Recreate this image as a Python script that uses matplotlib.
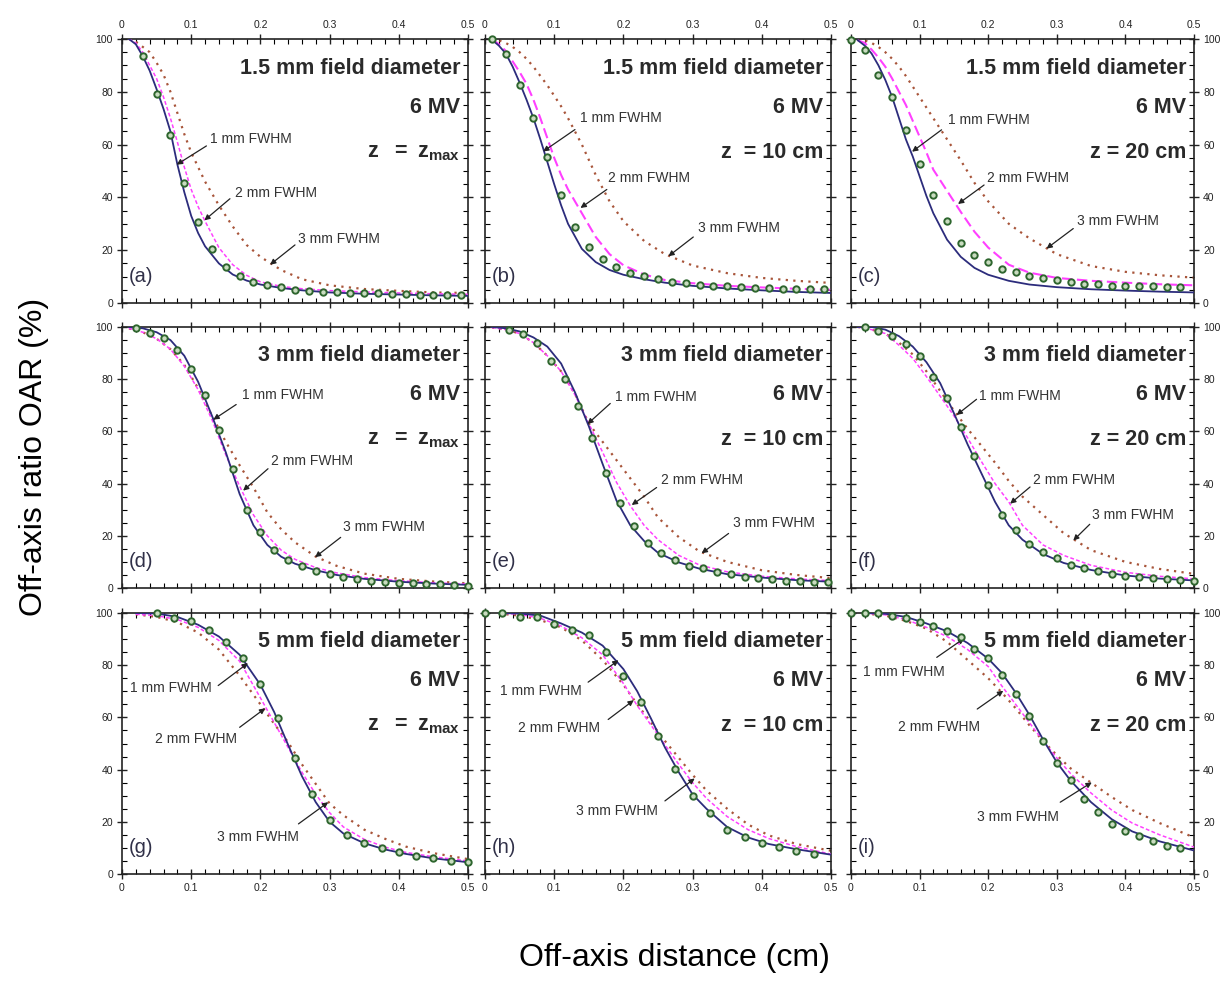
import matplotlib
matplotlib.use('Agg')
import matplotlib.pyplot as plt
from matplotlib.ticker import MultipleLocator, FuncFormatter

plt.rcParams['font.family'] = ['Liberation Sans', 'DejaVu Sans']
plt.rcParams['mathtext.fontset'] = 'custom'
plt.rcParams['mathtext.bf'] = 'Liberation Sans:bold'
plt.rcParams['mathtext.rm'] = 'Liberation Sans:bold'
plt.rcParams['mathtext.it'] = 'Liberation Sans:bold'

# ---- off-axis positions of the calculated curves (cm), one grid per row ----
x_row1 = [0.01, 0.02, 0.03, 0.04, 0.05, 0.06, 0.07, 0.08, 0.09, 0.10, 0.11, 0.12,
          0.14, 0.16, 0.18, 0.20, 0.23, 0.26, 0.30, 0.35, 0.40, 0.45, 0.50]
x_row2 = [0.01, 0.03, 0.05, 0.07, 0.09, 0.11, 0.13, 0.15, 0.17, 0.19, 0.21, 0.23,
          0.25, 0.28, 0.31, 0.35, 0.40, 0.45, 0.50]
x_row3 = [0.02, 0.05, 0.08, 0.11, 0.14, 0.17, 0.20, 0.22, 0.24, 0.26, 0.28, 0.30,
          0.32, 0.35, 0.38, 0.41, 0.45, 0.50]

# ---- (a) 1.5 mm, z = zmax ----
a_1mm = [100, 98, 93.5, 88, 81, 73.5, 65, 52.5, 42, 33, 26.5, 21.5, 15, 10.8, 8.5, 7.0, 5.7, 4.8, 4.0, 3.5, 3.2, 2.9, 2.7]
a_2mm = [100, 98.5, 95, 90, 85, 78, 70, 61, 51.5, 43, 36.5, 31, 21, 14.5, 10.5, 8.0, 6.3, 5.4, 4.7, 4.2, 3.8, 3.5, 3.3]
a_3mm = [100, 99, 97, 95, 91, 86.5, 80, 72, 64, 57, 51.5, 46, 37, 29, 22, 17.5, 12.5, 9, 6.7, 5.3, 4.6, 4.0, 3.8]
a_meas_x = [0.03, 0.05, 0.07, 0.09, 0.11, 0.13, 0.15, 0.17, 0.19, 0.21, 0.23, 0.25,
            0.27, 0.29, 0.31, 0.33, 0.35, 0.37, 0.39, 0.41, 0.43, 0.45, 0.47, 0.49]
a_meas = [93.4, 79.2, 63.8, 45.5, 30.6, 20.5, 13.6, 10.1, 8.0, 6.9, 6.1, 5.1,
          4.5, 4.2, 4.0, 3.8, 3.8, 3.7, 3.5, 3.4, 3.2, 3.2, 3.2, 3.0]

# ---- (b) 1.5 mm, z = 10 cm ----
b_1mm = [99.7, 97.5, 94.5, 89.5, 83.5, 77, 70, 62, 53.5, 45, 37, 30, 20.5, 15.5, 12.5, 10.7, 9.0, 7.7, 6.5, 5.5, 4.8, 4.2, 3.8]
b_2mm = [100, 98, 95.5, 91.5, 87.5, 83, 77, 70, 62.5, 55, 48.5, 43, 34, 25, 18.5, 14.3, 10.8, 8.7, 7.5, 6.5, 5.9, 5.4, 5.0]
b_3mm = [100, 99.5, 98.5, 97, 95, 92.5, 89.5, 86, 82.5, 78.5, 74.5, 70, 60, 48.5, 38.5, 31, 23.5, 18.5, 14.2, 11.3, 9.5, 8.4, 7.6]
b_meas_x = [0.01, 0.03, 0.05, 0.07, 0.09, 0.11, 0.13, 0.15, 0.17, 0.19, 0.21, 0.23, 0.25,
            0.27, 0.29, 0.31, 0.33, 0.35, 0.37, 0.39, 0.41, 0.43, 0.45, 0.47, 0.49]
b_meas = [100, 94.3, 82.7, 70, 55.2, 41.0, 28.8, 21.3, 16.7, 13.5, 11.4, 10.1, 9.1,
          8.0, 7.4, 6.8, 6.6, 6.3, 6.1, 5.8, 5.7, 5.4, 5.3, 5.2, 5.3]

# ---- (c) 1.5 mm, z = 20 cm ----
c_1mm = [99.5, 97.5, 94.5, 90, 84.5, 78, 70, 62, 55.5, 48, 40.5, 34, 24, 17.5, 13.3, 10.7, 8.4, 7.0, 6.0, 5.2, 4.7, 4.3, 4.0]
c_2mm = [99.5, 98.5, 96, 93, 89.5, 85, 80, 75, 69, 63, 57, 50.5, 42.5, 34.5, 27, 21, 14.5, 11.5, 9.5, 8.4, 7.7, 7.1, 6.7]
c_3mm = [100, 99.5, 98.5, 97, 95, 92.5, 89.5, 86, 82, 78, 74, 70, 62, 54, 45.5, 38.5, 30, 24.5, 18.5, 14, 11.8, 10.5, 9.6]
c_meas_x = [0.0, 0.02, 0.04, 0.06, 0.08, 0.10, 0.12, 0.14, 0.16, 0.18, 0.20, 0.22, 0.24,
            0.26, 0.28, 0.30, 0.32, 0.34, 0.36, 0.38, 0.40, 0.42, 0.44, 0.46, 0.48]
c_meas = [99.7, 96, 86.5, 78, 65.6, 52.5, 40.9, 31, 22.8, 18.1, 15.4, 12.7, 11.8,
          10.4, 9.5, 8.6, 8.0, 7.3, 7.1, 6.6, 6.6, 6.3, 6.3, 6.1, 6.1]

# ---- (d) 3 mm, z = zmax ----
d_1mm = [100, 99.5, 98, 95, 89, 79, 66, 52, 36, 24, 16.5, 12, 9.3, 6.8, 5.0, 3.5, 2.4, 1.7, 1.2]
d_2mm = [99.5, 98, 95.5, 91.5, 85, 76, 64.5, 51, 39, 28, 20, 14.5, 11, 7.8, 5.8, 4.0, 2.8, 2.0, 1.5]
d_3mm = [99.5, 98, 95.5, 91.5, 85.5, 76.5, 66, 56, 47, 38.5, 29, 22.5, 17.5, 12, 8.5, 5.5, 3.5, 2.5, 1.8]
d_meas_x = [0.02, 0.04, 0.06, 0.08, 0.10, 0.12, 0.14, 0.16, 0.18, 0.20, 0.22, 0.24, 0.26,
            0.28, 0.30, 0.32, 0.34, 0.36, 0.38, 0.40, 0.42, 0.44, 0.46, 0.48, 0.50]
d_meas = [99.7, 97.8, 95.9, 91.3, 84, 74, 60.7, 45.7, 30, 21.4, 14.6, 10.9, 8.3,
          6.6, 5.4, 4.3, 3.5, 2.8, 2.4, 2.0, 1.8, 1.5, 1.4, 1.2, 0.9]

# ---- (e) 3 mm, z = 10 cm ----
e_1mm = [100, 99.5, 98.3, 96, 92.5, 86, 75, 62, 47.5, 33.5, 24, 18, 13.5, 9.8, 7.4, 5.3, 4.0, 3.0, 2.4]
e_2mm = [99.8, 99, 97.5, 94, 89, 83, 74, 63, 52, 40.5, 31.5, 24, 18.5, 12.5, 8.8, 6.2, 4.5, 3.5, 2.8]
e_3mm = [99.8, 99, 97.5, 94, 89, 83, 74.5, 63, 56, 49, 42, 35, 27, 19.5, 14, 10, 6.8, 5, 3.8]
e_meas_x = [0.035, 0.055, 0.075, 0.095, 0.115, 0.135, 0.155, 0.175, 0.195, 0.215, 0.235, 0.255,
            0.275, 0.295, 0.315, 0.335, 0.355, 0.375, 0.395, 0.415, 0.435, 0.455, 0.475, 0.495]
e_meas = [99, 97.2, 94, 87, 80, 69.6, 57.3, 44.1, 32.4, 23.7, 17.1, 13.5,
          10.7, 8.5, 7.5, 6.3, 5.4, 4.3, 3.7, 3.3, 2.8, 2.7, 2.4, 2.2]

# ---- (f) 3 mm, z = 20 cm ----
f_1mm = [100, 100, 99, 96.5, 92.5, 86.5, 78.5, 67, 55, 44, 33, 24, 18.5, 13, 9.6, 6.9, 4.8, 3.6, 2.9]
f_2mm = [100, 99, 97.5, 93, 88, 81, 73.5, 66, 57.5, 48.5, 40, 33, 24, 16.5, 12.5, 8.7, 6.0, 4.5, 3.5]
f_3mm = [100, 99, 97.5, 94, 89.5, 83, 75.5, 68, 61, 54.5, 48, 41, 35, 28, 21, 14.5, 10, 7.3, 5.4]
f_meas_x = [0.02, 0.04, 0.06, 0.08, 0.10, 0.12, 0.14, 0.16, 0.18, 0.20, 0.22, 0.24, 0.26,
            0.28, 0.30, 0.32, 0.34, 0.36, 0.38, 0.40, 0.42, 0.44, 0.46, 0.48, 0.50]
f_meas = [100, 98.3, 96.7, 93.5, 88.7, 81, 72.7, 61.8, 50.5, 39.6, 28.1, 22.1, 16.9,
          13.7, 11.4, 9.0, 7.6, 6.4, 5.4, 4.7, 4.1, 3.7, 3.5, 3.1, 2.8]

# ---- (g) 5 mm, z = zmax ----
g_1mm = [100, 99.8, 98.5, 95.5, 91, 84, 72.5, 62, 49.5, 37.5, 27.5, 20, 15.5, 11.8, 9.4, 7.7, 6, 4.5]
g_2mm = [99.5, 99, 97.5, 94.5, 89.5, 81.5, 67.5, 58, 48.5, 39, 30.5, 23.5, 18, 13.3, 10.3, 8.3, 6.6, 5.0]
g_3mm = [99.5, 98.5, 96.5, 92.5, 86, 76, 65, 57.5, 50.5, 42, 34.5, 27, 22.5, 17, 13.5, 10.5, 8, 5.7]
g_meas_x = [0.05, 0.075, 0.10, 0.125, 0.15, 0.175, 0.20, 0.225, 0.25, 0.275,
            0.30, 0.325, 0.35, 0.375, 0.40, 0.425, 0.45, 0.475, 0.50]
g_meas = [100, 98.1, 96.8, 93.5, 89, 82.6, 72.8, 59.6, 44.3, 30.7,
          20.7, 14.9, 11.9, 9.8, 8.3, 7.0, 6.1, 5.1, 4.5]

# ---- (h) 5 mm, z = 10 cm ----
h_1mm = [100, 99.8, 99, 96, 92.5, 87.5, 78.5, 70, 59.5, 48.5, 39, 30.5, 25, 18, 14, 11.5, 9.5, 7.4]
h_2mm = [100, 99.5, 98, 95, 90.5, 84, 73, 64.5, 57, 49.5, 42, 35, 29, 22, 17, 13.6, 10.5, 7.6]
h_3mm = [99.8, 99, 97.3, 94.5, 89.5, 82, 72.5, 65, 58, 51, 44.5, 38, 32, 25, 19, 14.8, 11.5, 8.9]
h_meas_x = [0.0, 0.025, 0.05, 0.075, 0.10, 0.125, 0.15, 0.175, 0.20, 0.225,
            0.25, 0.275, 0.30, 0.325, 0.35, 0.375, 0.40, 0.425, 0.45, 0.475]
h_meas = [100, 100, 98.5, 98.3, 95.8, 93.6, 91.5, 85, 76, 66,
          52.9, 40.1, 29.7, 23.3, 16.9, 14, 11.7, 10.2, 8.9, 7.6]

# ---- (i) 5 mm, z = 20 cm ----
i_1mm = [100, 99.7, 98.5, 96, 93, 88.5, 82.5, 77, 69.5, 61, 51.5, 42.8, 35.8, 27.5, 21, 16.3, 12.5, 9]
i_2mm = [100, 99.3, 97.5, 94.5, 91, 86, 79.5, 72, 65, 58, 51, 44.5, 38.5, 31, 24.5, 19.5, 15, 10.3]
i_3mm = [99.8, 99, 97, 94, 89, 82, 75, 69.5, 63.5, 57, 51, 45.5, 40.5, 35, 29.5, 24.5, 19.5, 14]
i_meas_x = [0.0, 0.02, 0.04, 0.06, 0.08, 0.10, 0.12, 0.14, 0.16, 0.18, 0.20, 0.22, 0.24,
            0.26, 0.28, 0.30, 0.32, 0.34, 0.36, 0.38, 0.40, 0.42, 0.44, 0.46, 0.48]
i_meas = [100, 100, 100, 98.7, 98, 96.4, 95.1, 93.2, 90.7, 86.2, 82.6, 76.2, 69,
          60.7, 51.1, 42.5, 36, 28.7, 23.6, 19.2, 16.6, 14.4, 12.8, 10.9, 10]

field_labels = ['1.5 mm field diameter', '3 mm field diameter', '5 mm field diameter']
depth_labels = [r'$\mathbf{z\ \ =\ z_{max}}$', 'z  = 10 cm', 'z = 20 cm']
fwhm_labels = ['1 mm FWHM', '2 mm FWHM', '3 mm FWHM']
row_grids = [x_row1, x_row2, x_row3]

panels = [
    ('a', a_1mm, a_2mm, a_3mm, a_meas_x, a_meas),
    ('b', b_1mm, b_2mm, b_3mm, b_meas_x, b_meas),
    ('c', c_1mm, c_2mm, c_3mm, c_meas_x, c_meas),
    ('d', d_1mm, d_2mm, d_3mm, d_meas_x, d_meas),
    ('e', e_1mm, e_2mm, e_3mm, e_meas_x, e_meas),
    ('f', f_1mm, f_2mm, f_3mm, f_meas_x, f_meas),
    ('g', g_1mm, g_2mm, g_3mm, g_meas_x, g_meas),
    ('h', h_1mm, h_2mm, h_3mm, h_meas_x, h_meas),
    ('i', i_1mm, i_2mm, i_3mm, i_meas_x, i_meas),
]

# label placement: (text xy, arrow start, arrow tip) in data units
notes = {
    'a': [((0.127, 62), (0.122, 59.5), (0.079, 52.4)),
          ((0.163, 41.7), (0.156, 39.5), (0.119, 31.3)),
          ((0.255, 24.2), (0.250, 22), (0.214, 14.5))],
    'b': [((0.137, 70), (0.130, 65.7), (0.084, 57.4)),
          ((0.178, 47.3), (0.176, 43), (0.138, 36)),
          ((0.308, 28.4), (0.301, 25), (0.265, 17.7))],
    'c': [((0.142, 69.4), (0.132, 65.6), (0.089, 57.3)),
          ((0.198, 47.2), (0.194, 44.7), (0.156, 37.5)),
          ((0.329, 31.1), (0.324, 28.2), (0.285, 20.6))],
    'd': [((0.173, 73.8), (0.165, 70.3), (0.132, 64.5)),
          ((0.216, 48.6), (0.211, 45.7), (0.175, 37.3)),
          ((0.320, 23.5), (0.316, 19.4), (0.279, 11.8))],
    'e': [((0.188, 73.2), (0.181, 70.7), (0.148, 62.8)),
          ((0.255, 41.3), (0.248, 38.5), (0.212, 31.8)),
          ((0.358, 25), (0.352, 20.9), (0.313, 13.3))],
    'f': [((0.186, 73.6), (0.183, 72.3), (0.154, 66.3)),
          ((0.266, 41.3), (0.261, 38.7), (0.232, 32.3)),
          ((0.351, 27.8), (0.348, 24.4), (0.324, 18.2))],
    'g': [((0.012, 71.1), (0.139, 72.2), (0.182, 80.8)),
          ((0.047, 51.7), (0.170, 56.2), (0.207, 63.5)),
          ((0.137, 14), (0.255, 19.2), (0.298, 27.5))],
    'h': [((0.021, 70), (0.149, 73.5), (0.193, 81.9)),
          ((0.048, 56), (0.178, 59.2), (0.215, 66.6)),
          ((0.131, 24.2), (0.260, 28), (0.303, 36.6))],
    'i': [((0.018, 77.5), (0.125, 83), (0.165, 90.3)),
          ((0.069, 56.2), (0.184, 63.2), (0.222, 70.2)),
          ((0.183, 21.7), (0.305, 27.5), (0.351, 35.1))],
}

W, H = 1231, 983
col_left = [122, 485, 851]
col_w = [346, 346, 343]
row_top = [39, 327, 613]
row_bot = [303, 588, 874]

fig = plt.figure(figsize=(W / 100, H / 100), dpi=100)
fmt = FuncFormatter(lambda v, p: '%g' % round(v, 2))

for k, (tag, s1, s2, s3, mx, my) in enumerate(panels):
    r, c = divmod(k, 3)
    rect = [col_left[c] / W, 1 - row_bot[r] / H, col_w[c] / W, (row_bot[r] - row_top[r]) / H]
    ax = fig.add_axes(rect)
    xg = row_grids[r]

    if r == 0 and c > 0:
        dash = (0, (5, 2.2))
        dlw = 1.5
    else:
        dash = (0, (2.5, 1.5))
        dlw = 1.1
    ax.plot(xg, s3, color='#a8553a', lw=1.6, ls=(0, (1, 2.4)), zorder=2)
    ax.plot(xg, s2, color='#ff40ff', lw=dlw, ls=dash, zorder=3)
    ax.plot(xg, s1, color='#2c2c7c', lw=1.3, zorder=3)
    ax.plot(mx, my, ls='none', marker='o', ms=4.6, mfc='#c9dcc0', mec='#2e662e',
            mew=1.4, zorder=4, clip_on=False)

    ax.set_xlim(0, 0.5)
    ax.set_ylim(0, 100)
    ax.xaxis.set_major_locator(MultipleLocator(0.1))
    ax.xaxis.set_minor_locator(MultipleLocator(0.02))
    ax.yaxis.set_major_locator(MultipleLocator(20))
    ax.yaxis.set_minor_locator(MultipleLocator(5))
    ax.xaxis.set_major_formatter(fmt)
    ax.yaxis.set_major_formatter(fmt)
    ax.tick_params(which='major', direction='inout', length=7, width=1.0,
                   top=True, right=True, labelsize=7.5, pad=3, colors='#222222')
    ax.tick_params(which='minor', direction='in', length=3.5, width=0.8,
                   top=True, right=True)
    ax.tick_params(labeltop=(r == 0), labelbottom=(r == 2),
                   labelleft=(c == 0), labelright=(c == 2))
    for sp in ax.spines.values():
        sp.set_linewidth(1.2)
        sp.set_color('#222222')

    ax.text(0.978, 0.89, field_labels[r], transform=ax.transAxes, ha='right', va='center',
            fontsize=15.5, fontweight='bold', color='#2a2a2a')
    ax.text(0.978, 0.74, '6 MV', transform=ax.transAxes, ha='right', va='center',
            fontsize=15.5, fontweight='bold', color='#2a2a2a')
    ax.text(0.978, 0.57, depth_labels[c], transform=ax.transAxes, ha='right', va='center',
            fontsize=15.5, fontweight='bold', color='#2a2a2a')
    ax.text(0.02, 0.10, '(%s)' % tag, transform=ax.transAxes, ha='left', va='center',
            fontsize=14.5, color='#303048')

    for lab, (txy, start, tip) in zip(fwhm_labels, notes[tag]):
        ax.text(txy[0], txy[1], lab, ha='left', va='center', fontsize=10, color='#333333')
        ax.annotate('', xy=tip, xytext=start,
                    arrowprops=dict(arrowstyle='-|>', color='#222222', lw=0.9,
                                    mutation_scale=8, shrinkA=0, shrinkB=0))

fig.text(0.548, 0.025, 'Off-axis distance (cm)', ha='center', va='center', fontsize=23)
fig.text(0.028, 0.535, 'Off-axis ratio OAR (%)', ha='center', va='center',
         rotation=90, fontsize=23)

fig.savefig('out.png', dpi=100)
